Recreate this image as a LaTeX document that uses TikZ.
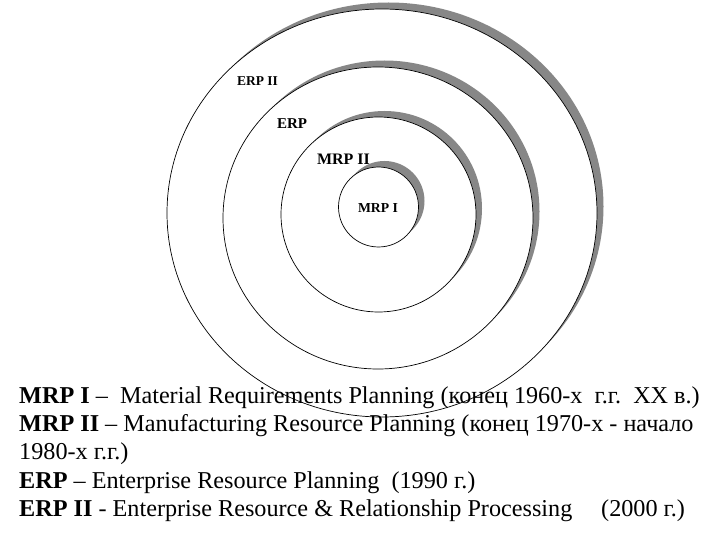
\documentclass[tikz,border=0pt]{standalone}
\usepackage{fontspec}
\setmainfont{Liberation Serif}
\begin{document}
\begin{tikzpicture}[x=1pt,y=-1pt,
  ring/.style={draw=black,line width=0.7pt,fill=white},
  shade/.style={fill=shadowgray,draw=none},
  lbl/.style={inner sep=0pt,font=\bfseries},
  txt/.style={anchor=base west,inner sep=0pt,font=\fontsize{24.2}{28.3}\selectfont}]
\definecolor{shadowgray}{RGB}{135,135,135}
\useasboundingbox[fill=white] (0,0) rectangle (720,540);
% outer ERP II
\fill[shade] (388.5,206.5) ellipse [x radius=215, y radius=204];
\draw[ring] (382,213) ellipse [x radius=215, y radius=204];
% ERP
\fill[shade] (384.5,211.5) ellipse [x radius=155, y radius=151];
\draw[ring] (378,218) ellipse [x radius=155, y radius=151];
% MRP II
\fill[shade] (384.5,208.5) circle [radius=97.5];
\draw[ring] (378.5,214.5) circle [radius=97.5];
% MRP I
\fill[shade] (384.5,201) circle [radius=40];
\draw[ring] (378.5,207) circle [radius=40];
% labels
\node[lbl,font=\bfseries\fontsize{13.5}{16}\selectfont] (erp2) at (257.5,81) {ERP II};
\node[lbl,font=\bfseries\fontsize{15}{18}\selectfont] (erp) at (292,124) {ERP};
\node[lbl,font=\bfseries\fontsize{16}{19}\selectfont] (mrp2) at (343.5,159) {MRP II};
\node[lbl,font=\bfseries\fontsize{13.7}{16}\selectfont] (mrp1) at (378,208) {MRP I};
% legend
\node[txt] (l1) at (19,403.3) {\textbf{MRP I} –\ \ Material Requirements Planning (конец 1960-х\ \ г.г.\ \ XX в.)};
\node[txt] (l2) at (19,431.6) {\textbf{MRP II} – Manufacturing Resource Planning (конец 1970-х - начало};
\node[txt] (l3) at (19,459.9) {1980-х г.г.)};
\node[txt] (l4) at (19,488.2) {\textbf{ERP} – Enterprise Resource Planning\ \ (1990 г.)};
\node[txt] (l5) at (19,516.5) {\textbf{ERP II} - Enterprise Resource \& Relationship Processing};
\node[txt] (l5b) at (601,516.5) {(2000 г.)};
\end{tikzpicture}
\end{document}
